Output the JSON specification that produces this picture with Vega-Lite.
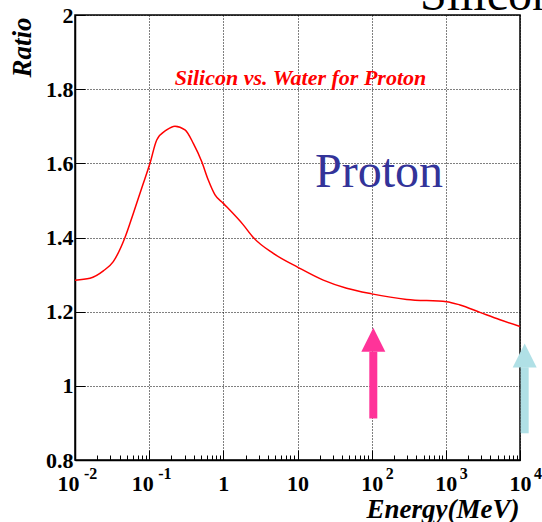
{
  "$schema": "https://vega.github.io/schema/vega-lite/v6.json",
  "autosize": "none",
  "width": 445,
  "height": 445,
  "padding": {"left": 75, "top": 15, "right": 22, "bottom": 62},
  "background": "white",
  "config": {
    "view": {"stroke": "black", "strokeWidth": 1.5},
    "axis": {
      "labelFont": "Liberation Serif",
      "labelFontWeight": "bold",
      "labelFontSize": 22,
      "labelColor": "black",
      "titleFont": "Liberation Serif",
      "titleFontWeight": "bold",
      "titleFontStyle": "italic",
      "titleFontSize": 27,
      "titleColor": "black",
      "domainColor": "black",
      "domainWidth": 1.5,
      "tickColor": "black",
      "gridColor": "black",
      "gridDash": [1, 2],
      "gridWidth": 1
    }
  },
  "datasets": {
    "curve": [
      {"energy": 0.01, "ratio": 1.285},
      {"energy": 0.01592, "ratio": 1.29},
      {"energy": 0.0241, "ratio": 1.31},
      {"energy": 0.03281, "ratio": 1.335},
      {"energy": 0.04721, "ratio": 1.4},
      {"energy": 0.06109, "ratio": 1.465},
      {"energy": 0.07925, "ratio": 1.533},
      {"energy": 0.1026, "ratio": 1.6},
      {"energy": 0.1265, "ratio": 1.663},
      {"energy": 0.1722, "ratio": 1.69},
      {"energy": 0.2228, "ratio": 1.7},
      {"energy": 0.3041, "ratio": 1.69},
      {"energy": 0.3936, "ratio": 1.654},
      {"energy": 0.5105, "ratio": 1.605},
      {"energy": 0.6266, "ratio": 1.555},
      {"energy": 0.7727, "ratio": 1.515},
      {"energy": 1, "ratio": 1.492},
      {"energy": 1.858, "ratio": 1.434},
      {"energy": 2.535, "ratio": 1.4},
      {"energy": 4.721, "ratio": 1.357},
      {"energy": 10.26, "ratio": 1.319},
      {"energy": 22.28, "ratio": 1.285},
      {"energy": 46.03, "ratio": 1.263},
      {"energy": 100, "ratio": 1.248},
      {"energy": 296.5, "ratio": 1.233},
      {"energy": 1026, "ratio": 1.227},
      {"energy": 1552, "ratio": 1.218},
      {"energy": 2884, "ratio": 1.198},
      {"energy": 5370, "ratio": 1.178},
      {"energy": 10000, "ratio": 1.16}
    ],
    "arrows": [
      {"name": "pink", "energy": 105.2, "tail": 0.912, "neck": 1.092, "head": 1.124},
      {"name": "blue", "energy": 11560, "tail": 0.872, "neck": 1.05, "head": 1.082}
    ],
    "powers": [
      {"energy": 0.01, "exponent": "-2", "sign": "neg"},
      {"energy": 0.1, "exponent": "-1", "sign": "neg"},
      {"energy": 100, "exponent": "2", "sign": "pos"},
      {"energy": 1000, "exponent": "3", "sign": "pos"},
      {"energy": 10000, "exponent": "4", "sign": "pos"}
    ],
    "notes": [
      {"energy": 447.7, "ratio": 2.0136, "text": "Silicon"}
    ]
  },
  "layer": [
    {
      "data": {"name": "curve"},
      "mark": {"type": "line", "color": "#ff0000", "strokeWidth": 1.5, "interpolate": "monotone"},
      "encoding": {
        "x": {
          "field": "energy",
          "type": "quantitative",
          "scale": {"type": "log", "domain": [0.01, 10000], "nice": false},
          "axis": {
            "title": "Energy(MeV)",
            "titleAnchor": "end",
            "titleAlign": "right",
            "titleBaseline": "alphabetic",
            "titleX": 444,
            "titleY": 57,
            "values": [0.01, 0.02, 0.03, 0.04, 0.05, 0.06, 0.07, 0.08, 0.09,
                       0.1, 0.2, 0.3, 0.4, 0.5, 0.6, 0.7, 0.8, 0.9,
                       1, 2, 3, 4, 5, 6, 7, 8, 9,
                       10, 20, 30, 40, 50, 60, 70, 80, 90,
                       100, 200, 300, 400, 500, 600, 700, 800, 900,
                       1000, 2000, 3000, 4000, 5000, 6000, 7000, 8000, 9000, 10000],
            "labelExpr": "abs(log(datum.value)/LN10 - round(log(datum.value)/LN10)) < 1e-6 ? (datum.value == 1 ? '1' : '10') : ''",
            "labelBaseline": "alphabetic",
            "labelPadding": 40,
            "labelOffset": {"condition": {"test": "datum.value < 0.5", "value": -7}, "value": 0},
            "labelFlush": false,
            "labelOverlap": false,
            "tickSize": {"condition": {"test": "abs(log(datum.value)/LN10 - round(log(datum.value)/LN10)) < 1e-6", "value": -10}, "value": -5},
            "gridOpacity": {"condition": {"test": "abs(log(datum.value)/LN10 - round(log(datum.value)/LN10)) < 1e-6", "value": 1}, "value": 0}
          }
        },
        "y": {
          "field": "ratio",
          "type": "quantitative",
          "scale": {"domain": [0.8, 2], "nice": false, "zero": false},
          "axis": {
            "title": "Ratio",
            "titleAngle": -90,
            "titleAlign": "right",
            "titleBaseline": "middle",
            "titleX": -53,
            "titleY": 2,
            "values": [0.8, 0.85, 0.9, 0.95, 1, 1.05, 1.1, 1.15, 1.2, 1.25, 1.3, 1.35, 1.4, 1.45, 1.5, 1.55, 1.6, 1.65, 1.7, 1.75, 1.8, 1.85, 1.9, 1.95, 2],
            "labelExpr": "abs(datum.value*5 - round(datum.value*5)) < 1e-6 ? format(datum.value, '~g') : ''",
            "labelPadding": 12,
            "labelFlush": false,
            "labelOverlap": false,
            "tickSize": {"condition": {"test": "abs(datum.value*5 - round(datum.value*5)) < 1e-6", "value": -10}, "value": -5.5},
            "gridOpacity": {"condition": {"test": "abs(datum.value*5 - round(datum.value*5)) < 1e-6", "value": 1}, "value": 0}
          }
        }
      }
    },
    {
      "data": {"name": "arrows"},
      "mark": {"type": "rule", "strokeWidth": 8},
      "encoding": {
        "x": {"field": "energy", "type": "quantitative"},
        "y": {"field": "tail", "type": "quantitative"},
        "y2": {"field": "neck"},
        "color": {"field": "name", "type": "nominal", "scale": {"domain": ["pink", "blue"], "range": ["#ff3399", "#b0e0e6"]}, "legend": null}
      }
    },
    {
      "data": {"name": "arrows"},
      "mark": {"type": "point", "shape": "M0,-1L-1,1L1,1Z", "size": 576, "filled": true, "opacity": 1, "strokeWidth": 0},
      "encoding": {
        "x": {"field": "energy", "type": "quantitative"},
        "y": {"field": "head", "type": "quantitative"},
        "color": {"field": "name", "type": "nominal", "legend": null}
      }
    },
    {
      "data": {"name": "powers"},
      "transform": [{"filter": "datum.sign == 'neg'"}],
      "mark": {"type": "text", "align": "left", "baseline": "alphabetic", "dx": 9, "dy": 19, "font": "Liberation Serif", "fontWeight": "bold", "fontSize": 16, "color": "black"},
      "encoding": {
        "x": {"field": "energy", "type": "quantitative"},
        "y": {"datum": 0.8},
        "text": {"field": "exponent"}
      }
    },
    {
      "data": {"name": "powers"},
      "transform": [{"filter": "datum.sign == 'pos'"}],
      "mark": {"type": "text", "align": "left", "baseline": "alphabetic", "dx": 14, "dy": 19, "font": "Liberation Serif", "fontWeight": "bold", "fontSize": 16, "color": "black"},
      "encoding": {
        "x": {"field": "energy", "type": "quantitative"},
        "y": {"datum": 0.8},
        "text": {"field": "exponent"}
      }
    },
    {
      "data": {"name": "notes"},
      "mark": {"type": "text", "align": "left", "baseline": "alphabetic", "font": "Liberation Serif", "fontSize": 48, "color": "black"},
      "encoding": {
        "x": {"field": "energy", "type": "quantitative"},
        "y": {"field": "ratio", "type": "quantitative"},
        "text": {"field": "text"}
      }
    },
    {
      "data": {"values": [{"energy": 10.96, "ratio": 1.812, "text": "Silicon vs. Water for Proton"}]},
      "mark": {"type": "text", "align": "center", "baseline": "alphabetic", "font": "Liberation Serif", "fontWeight": "bold", "fontStyle": "italic", "fontSize": 22, "color": "#ff0000"},
      "encoding": {
        "x": {"field": "energy", "type": "quantitative"},
        "y": {"field": "ratio", "type": "quantitative"},
        "text": {"field": "text"}
      }
    },
    {
      "data": {"values": [{"energy": 125.6, "ratio": 1.537, "text": "Proton"}]},
      "mark": {"type": "text", "align": "center", "baseline": "alphabetic", "font": "Liberation Serif", "fontSize": 48, "color": "#333399"},
      "encoding": {
        "x": {"field": "energy", "type": "quantitative"},
        "y": {"field": "ratio", "type": "quantitative"},
        "text": {"field": "text"}
      }
    }
  ]
}
